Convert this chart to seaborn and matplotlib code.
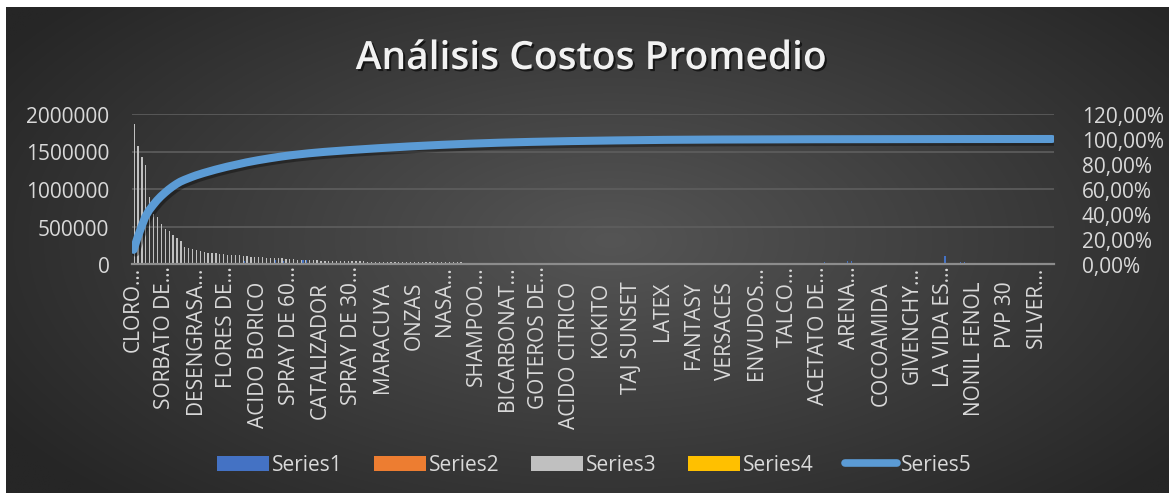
import numpy as np
import pandas as pd
import matplotlib
matplotlib.use("Agg")
import matplotlib.pyplot as plt
import matplotlib.transforms as mtransforms
import matplotlib.patheffects as pe
from matplotlib.patches import Patch
from matplotlib.lines import Line2D
from matplotlib.ticker import FuncFormatter, MultipleLocator
import seaborn as sns

# ---- data -----------------------------------------------------------------
# rotulated products (one label every 8 products on the category axis)
etiquetas = ["CLORO…", "SORBATO DE…", "DESENGRASA…", "FLORES DE…", "ACIDO BORICO",
             "SPRAY DE 60…", "CATALIZADOR", "SPRAY DE 30…", "MARACUYA", "ONZAS",
             "NASA…", "SHAMPOO…", "BICARBONAT…", "GOTEROS DE…", "ACIDO CITRICO",
             "KOKITO", "TAJ SUNSET", "LATEX", "FANTASY", "VERSACES",
             "ENVUDOS…", "TALCO…", "ACETATO DE…", "ARENA…", "COCOAMIDA",
             "GIVENCHY…", "LA VIDA ES…", "NONIL FENOL", "PVP 30", "SILVER…"]
paso_etiqueta = 8

# Series3: average cost per product, sorted in descending order
serie3 = [
    1867000, 1573000, 1431000, 1320000, 889000, 667000, 622000, 533000, 467000, 436000,
    387000, 347000, 302000, 231000, 209000, 196000, 187000, 169000, 156000, 147000,
    147000, 142000, 133000, 133000, 124000, 116000,
    120000, 118000, 110000, 107000, 100000, 98000, 92000, 89000, 84000, 80000,
    80000, 78000, 75000, 70000, 67000, 62000, 58000, 58000, 55000, 52000,
    49000, 47000, 45000, 42000,
    40000, 39000, 38000, 37000, 36000, 35500, 35000, 34500, 34000, 33500,
    33000, 32500, 32000, 31500, 31000, 30500,
    30000, 29500, 29000, 28500, 28000, 27500, 27000, 26500, 26000, 25500,
    25000, 24500, 24000, 23500, 23000,
    22500, 22000, 21000, 20500, 20000, 19500, 19000, 18500, 18000, 17500,
    17000, 16500, 16000, 15500, 15000, 14500, 14000, 13500, 13000, 12500,
    12000, 11800, 11500, 11200, 11000, 10700, 10400, 10100, 9800, 9500,
    9200, 9000, 8800, 8600, 8400, 8200, 8000, 7800, 7600, 7400,
    7200, 7000, 6900, 6800, 6700, 6600, 6500, 6400, 6300, 6200,
    6000, 5700, 5400, 5100, 4800, 4500, 4300, 4100, 3900, 3700,
    3500, 3300, 3100, 2950, 2800, 2650, 2500, 2400, 2300, 2200,
    2100, 2050, 2000, 1950, 1900, 1850, 1800, 1750, 1700, 1650,
    1600, 1560, 1520, 1480, 1440, 1400, 1360, 1320, 1280, 1240,
    1200, 1170, 1140, 1110, 1080, 1050, 1020, 990, 960, 930,
    900, 880, 860, 840, 820, 800, 780, 760, 740, 720,
    700, 685, 670, 655, 640, 625, 610, 595, 580, 565,
    550, 540, 530, 520, 510, 500, 490, 480, 470, 460,
    450, 440, 430, 420, 410, 400, 390, 380, 370, 360,
    350, 340, 330, 320, 310, 300, 290, 280, 270, 260,
    250, 240, 230, 220, 210, 200,
]

# Series1: only a few products carry a value
serie1_pos = [0, 8, 29, 37, 39, 44, 45, 82, 95, 100, 118, 123, 136, 154, 174,
              175, 178, 184, 185, 190, 196, 204, 209, 213, 214, 215, 222]
serie1_val = [15000, 12000, 35000, 60000, 40000, 55000, 50000, 8000, 12000, 12000,
              8000, 10000, 8000, 10000, 12000, 12000, 22000, 40000, 35000, 10000,
              8000, 12000, 110000, 22000, 25000, 20000, 10000]

# Series2: small amounts scattered along the list
serie2_pos = [3, 10, 17, 22, 31, 40, 48, 53, 61, 70, 78, 86, 92, 104, 112, 127,
              138, 142, 146, 150, 155, 159, 163, 167, 171, 179, 188, 200, 211, 226]
serie2_val = [6000, 5000, 5000, 4000, 5000, 6000, 4000, 5000, 4000, 5000, 4000, 5000,
              4000, 4000, 5000, 4000, 5000, 6000, 5000, 6000, 5000, 6000, 5000, 6000,
              5000, 4000, 5000, 4000, 4000, 4000]

nombres_series = ["Series1", "Series2", "Series3", "Series4", "Series5"]
colores = ["#4472C4", "#ED7D31", "#C0C0C0", "#FFC000", "#5B9BD5"]

# ---- assemble -------------------------------------------------------------
N = len(serie3)
cats = np.arange(N)
s1 = np.zeros(N); s1[serie1_pos] = serie1_val
s2 = np.zeros(N); s2[serie2_pos] = serie2_val
s3 = np.array(serie3, dtype=float)
s4 = np.zeros(N)
acumulado = np.cumsum(s3) / s3.sum()

df = pd.DataFrame({
    "cat": np.tile(cats, 4),
    "serie": np.repeat(nombres_series[:4], N),
    "valor": np.concatenate([s1, s2, s3, s4]),
})

# ---- figure ---------------------------------------------------------------
sns.set_theme(style="white")
plt.rcParams["font.family"] = ["Open Sans", "DejaVu Sans"]
TXT = "#D9D9D9"
FS = 15

W, H = 1169, 502
fig = plt.figure(figsize=(W / 100, H / 100), dpi=100)
fig.patch.set_facecolor("white")

# dark radial gradient behind the chart
bg = fig.add_axes([6 / W, 8 / H, 1 - 6 / W, 1 - 16 / H], zorder=-10)
yy, xx = np.mgrid[0:1:300j, 0:1:700j]
r = np.sqrt(((xx - 0.52) / 0.62) ** 2 + ((yy - 0.48) / 0.75) ** 2)
r = np.clip(r, 0, 1)
c_in, c_out = np.array([0x55, 0x55, 0x55]) / 255, np.array([0x26, 0x26, 0x26]) / 255
img = c_in[None, None, :] * (1 - r[..., None]) + c_out[None, None, :] * r[..., None]
bg.imshow(img, aspect="auto", extent=[0, 1, 0, 1], interpolation="bilinear")
bg.set_axis_off()

left, right = 131.6 / W, 1054 / W
bottom, top = 1 - 265 / H, 1 - 115 / H
ax = fig.add_axes([left, bottom, right - left, top - bottom])
ax.set_facecolor("none")

sns.barplot(data=df, x="cat", y="valor", hue="serie", hue_order=nombres_series[:4],
            palette=colores[:4], width=1.3, errorbar=None, saturation=1,
            linewidth=0, legend=False, ax=ax, zorder=2)

ax.set_xlim(-0.5, N - 0.5)
ax.set_ylim(0, 2000000)
ax.yaxis.set_major_locator(MultipleLocator(500000))
ax.yaxis.set_major_formatter(FuncFormatter(lambda v, p: f"{int(v)}"))
ax.grid(axis="y", color="#5E5E5E", linewidth=1.2, zorder=0)
ax.set_axisbelow(True)
for s in ["left", "right", "top"]:
    ax.spines[s].set_visible(False)
ax.spines["bottom"].set_color("#8C8C8C")
ax.spines["bottom"].set_linewidth(1.6)
ax.set_xlabel("")
ax.set_ylabel("")

ax.set_xticks(cats[::paso_etiqueta])
ax.set_xticklabels(etiquetas, rotation=90, ha="center", va="top")
ax.tick_params(axis="x", length=0, pad=12, labelsize=FS, labelcolor=TXT)
ax.tick_params(axis="y", length=0, pad=16, labelsize=FS, labelcolor=TXT)
desplaza = mtransforms.ScaledTranslation(0, 11 / 72, fig.dpi_scale_trans)
for lbl in ax.get_xticklabels():
    if lbl.get_text().endswith("…"):
        lbl.set_transform(lbl.get_transform() + desplaza)

# cumulative percentage on the secondary axis
ax2 = ax.twinx()
sns.lineplot(x=cats, y=acumulado, ax=ax2, color=colores[4], linewidth=5.8,
             solid_capstyle="round", zorder=3,
             path_effects=[pe.SimpleLineShadow(offset=(1.5, -2), shadow_color="black", alpha=0.35),
                           pe.Normal()])
ax2.set_ylim(0, 1.2)
ax2.yaxis.set_major_locator(MultipleLocator(0.2))
ax2.yaxis.set_major_formatter(FuncFormatter(lambda v, p: f"{v * 100:.2f}%".replace(".", ",")))
ax2.tick_params(axis="y", length=0, pad=20, labelsize=FS, labelcolor=TXT)
for s in ax2.spines.values():
    s.set_visible(False)
ax2.set_xlim(-0.5, N - 0.5)

# title
fig.text(591 / W, 1 - 70 / H, "Análisis Costos Promedio", ha="center", va="baseline",
         fontsize=28, fontweight="semibold", color="#F2F2F2",
         path_effects=[pe.withSimplePatchShadow(offset=(1.5, -1.5), shadow_rgbFace="black", alpha=0.6)])

# legend
handles = [Patch(facecolor=c, edgecolor="none") for c in colores[:4]]
handles.append(Line2D([0], [0], color=colores[4], linewidth=5.5, solid_capstyle="round"))
leg = fig.legend(handles, nombres_series, loc="center", bbox_to_anchor=(594 / W, 1 - 466 / H),
                 ncol=5, frameon=False, fontsize=FS, handlelength=2.5, handleheight=0.7,
                 handletextpad=0.15, columnspacing=1.5, labelcolor=TXT)

fig.savefig("out.png", dpi=100, facecolor=fig.get_facecolor())
